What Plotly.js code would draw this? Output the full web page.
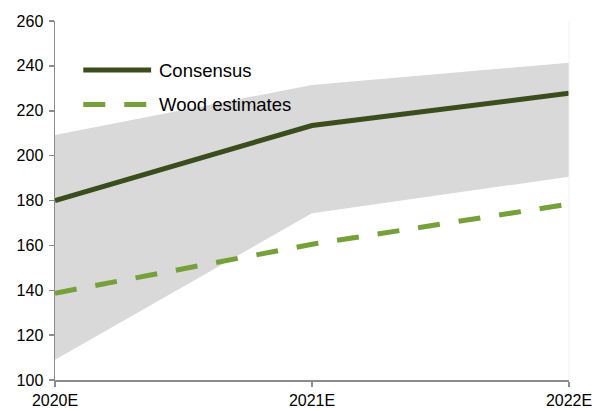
<!DOCTYPE html>
<html>
<head>
<meta charset="utf-8">
<script src="https://cdn.plot.ly/plotly-3.0.1.min.js"></script>
<style>html,body{margin:0;padding:0;background:#fff;}#chart{width:598px;height:411px;}</style>
</head>
<body>
<div id="chart"></div>
<script>
const categories = ['2020E', '2021E', '2022E'];
const rangeLow = [109, 174.3, 190.6];
const rangeHigh = [209.2, 231.5, 241.4];
const consensus = [180, 213.4, 227.8];
const woodEstimates = [138.7, 160.5, 178.4];
const seriesNames = ['Consensus', 'Wood estimates'];
const yTicks = [100, 120, 140, 160, 180, 200, 220, 240, 260];

const colConsensus = '#3b4d1c';
const colWood = '#76a13a';
const colBand = '#d9d9d9';
const font = 'Liberation Sans, Arial, sans-serif';

const traces = [
  {x: categories, y: rangeLow, type: 'scatter', mode: 'lines', line: {width: 0, color: colBand}, showlegend: false, hoverinfo: 'skip'},
  {x: categories, y: rangeHigh, type: 'scatter', mode: 'lines', line: {width: 0, color: colBand}, fill: 'tonexty', fillcolor: colBand, showlegend: false, hoverinfo: 'skip'},
  {x: categories, y: consensus, name: seriesNames[0], type: 'scatter', mode: 'lines', line: {width: 5, color: colConsensus}, showlegend: false},
  {x: categories, y: woodEstimates, name: seriesNames[1], type: 'scatter', mode: 'lines', line: {width: 5, color: colWood, dash: '22px,19px'}, showlegend: false}
];

const legY = [0.8635, 0.7674];
const layout = {
  width: 598, height: 411,
  margin: {l: 55, r: 29, t: 21, b: 31, pad: 0},
  paper_bgcolor: '#fff', plot_bgcolor: '#fff',
  font: {family: font, size: 16, color: '#000'},
  showlegend: false,
  xaxis: {
    type: 'category', range: [0, 2], showgrid: false, zeroline: false,
    showline: true, linecolor: '#8c8c8c', linewidth: 1.5,
    ticks: 'outside', ticklen: 5, tickcolor: '#8c8c8c', tickwidth: 1.5,
    tickfont: {family: font, size: 16, color: '#000'}, ticklabelstandoff: 0
  },
  yaxis: {
    range: [100, 260], tickvals: yTicks, showgrid: false, zeroline: false,
    showline: true, linecolor: '#8c8c8c', linewidth: 1.5,
    ticks: 'outside', ticklen: 5, tickcolor: '#8c8c8c', tickwidth: 1.5,
    tickfont: {family: font, size: 16, color: '#000'}, ticklabelstandoff: 2
  },
  shapes: [
    {type: 'line', xref: 'paper', yref: 'paper', x0: 1, x1: 1, y0: 0, y1: 1, line: {color: '#f0f0f0', width: 1}},
    {type: 'line', xref: 'paper', yref: 'paper', x0: 0.055, x1: 0.187, y0: legY[0], y1: legY[0], line: {color: colConsensus, width: 5}},
    {type: 'line', xref: 'paper', yref: 'paper', x0: 0.055, x1: 0.187, y0: legY[1], y1: legY[1], line: {color: colWood, width: 5, dash: '22px,19px'}}
  ],
  annotations: [
    {xref: 'paper', yref: 'paper', x: 0.198, y: legY[0], xanchor: 'left', yanchor: 'middle', text: seriesNames[0], showarrow: false, font: {family: font, size: 18.5, color: '#000'}},
    {xref: 'paper', yref: 'paper', x: 0.198, y: legY[1], xanchor: 'left', yanchor: 'middle', text: seriesNames[1], showarrow: false, font: {family: font, size: 18.5, color: '#000'}}
  ]
};

Plotly.newPlot('chart', traces, layout, {staticPlot: true, displayModeBar: false});
</script>
</body>
</html>
